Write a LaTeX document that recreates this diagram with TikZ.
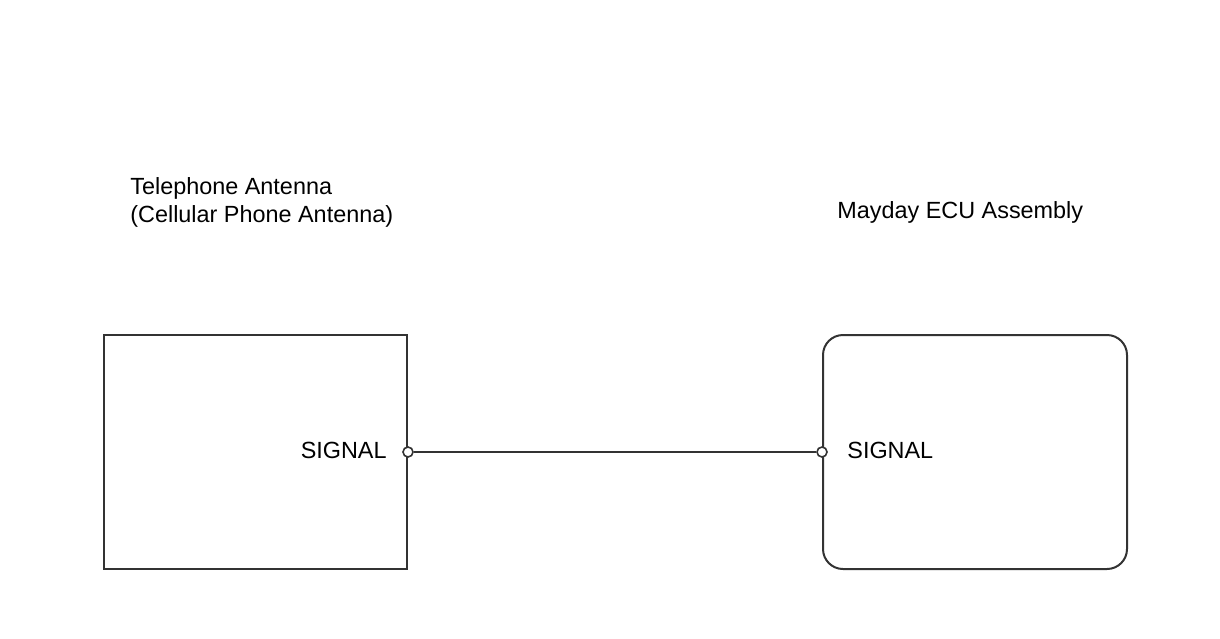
\documentclass[tikz,border=0pt]{standalone}
\usepackage{fontspec}
\setmainfont{Liberation Sans}
\definecolor{wire}{HTML}{333333}
\begin{document}
\begin{tikzpicture}[x=0.5pt,y=-0.5pt,
  label/.style={font=\fontsize{11.7}{14}\selectfont, text=black, inner sep=0pt},
  part/.style={draw=wire, line width=1pt, inner sep=0pt},
  pin/.style={circle, draw=wire, fill=white, line width=0.8pt, minimum size=5pt, inner sep=0pt}]
\useasboundingbox (0,0) rectangle (1220,638);
% boxes
\node[part, minimum width=151.5pt, minimum height=117pt] (antenna) at (255.5,452) {};
\node[part, rounded corners=10pt, minimum width=152pt, minimum height=117pt] (ecu) at (975,452) {};
% titles
\node[label, anchor=base west, align=left] (antennaname) at (130,222) {Telephone Antenna\\(Cellular Phone Antenna)};
\node[label, anchor=base west] (ecuname) at (837,218) {Mayday ECU Assembly};
% wire
\node[pin] (p1) at (antenna.east) {};
\node[pin] (p2) at (ecu.west) {};
\draw[wire, line width=1pt] (p1) -- (p2);
\node[label, anchor=base east] (sig1) at (387,458) {SIGNAL};
\node[label, anchor=base west] (sig2) at (847,458) {SIGNAL};
\end{tikzpicture}
\end{document}
